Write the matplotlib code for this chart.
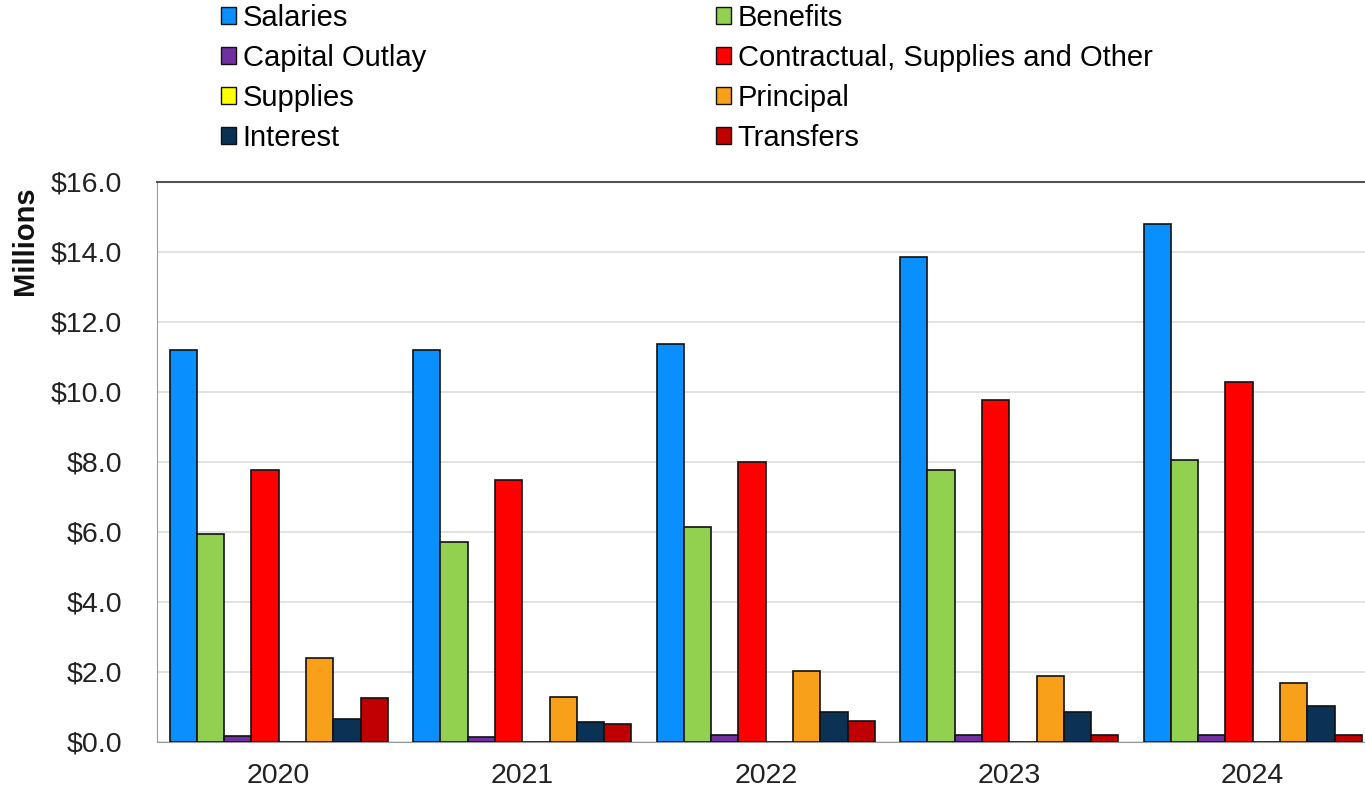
import matplotlib.pyplot as plt
from matplotlib.patches import Patch
import numpy as np

plt.rcParams['font.family'] = ['Liberation Sans', 'DejaVu Sans']

years = ['2020', '2021', '2022', '2023', '2024']
series_names = ['Salaries', 'Benefits', 'Capital Outlay', 'Contractual, Supplies and Other',
                'Supplies', 'Principal', 'Interest', 'Transfers']
salaries = [11.21, 11.21, 11.38, 13.86, 14.80]
benefits = [5.95, 5.72, 6.13, 7.76, 8.06]
capital_outlay = [0.18, 0.14, 0.21, 0.21, 0.20]
contractual = [7.77, 7.48, 7.99, 9.76, 10.28]
supplies = [0.0, 0.0, 0.0, 0.0, 0.0]
principal = [2.41, 1.29, 2.02, 1.90, 1.68]
interest = [0.66, 0.57, 0.87, 0.85, 1.03]
transfers = [1.26, 0.51, 0.59, 0.20, 0.20]
colors = ['#0A8FFF', '#92D050', '#7030A0', '#FF0000', '#FFFF00', '#F9A01B', '#0B3154', '#C00000']

data = [salaries, benefits, capital_outlay, contractual, supplies, principal, interest, transfers]

fs = 20.5

fig = plt.figure(figsize=(13.65, 7.91), dpi=100)
ax = fig.add_axes([157 / 1365, 49 / 791, 1217.5 / 1365, 560 / 791])

x = np.arange(len(years))
w = 0.112
for i, (vals, c) in enumerate(zip(data, colors)):
    ax.bar(x + (i - 3.5) * w, vals, w, color=c, edgecolor='#111111', linewidth=1.2, zorder=3)

ax.set_xlim(-0.5, 4.5)
ax.set_ylim(0, 16)
ax.set_yticks(np.arange(0, 16.1, 2))
ax.set_yticklabels([f'${v:.1f}' for v in np.arange(0, 16.1, 2)])
ax.set_xticks(x)
ax.set_xticklabels(years)
ax.tick_params(axis='both', length=0, labelsize=fs, colors='#222222')
ax.tick_params(axis='y', pad=25)
ax.tick_params(axis='x', pad=15)
ax.yaxis.grid(True, color='#dddddd', linewidth=1.2, zorder=0)
ax.set_axisbelow(True)
ax.spines['right'].set_visible(False)
ax.spines['top'].set_color('#555555')
ax.spines['top'].set_linewidth(1.5)
ax.spines['left'].set_color('#999999')
ax.spines['bottom'].set_color('#999999')

fig.text(25 / 1365, 1 - 241 / 791, 'Millions', rotation=90, fontsize=21, fontweight='bold',
         ha='center', va='center', color='#111111')

handles = [Patch(facecolor=c, edgecolor='#111111', linewidth=1.0) for c in colors]
col1 = [0, 2, 4, 6]
col2 = [1, 3, 5, 7]
for cols, xpos in [(col1, 221), (col2, 716)]:
    fig.legend([handles[k] for k in cols], [series_names[k] for k in cols],
               loc='upper left', bbox_to_anchor=(xpos / 1365, 0.995), frameon=False,
               fontsize=21, handlelength=0.53, handleheight=0.53, handletextpad=0.21,
               labelspacing=0.41, borderpad=0, borderaxespad=0)

fig.savefig('out.png', dpi=100)
